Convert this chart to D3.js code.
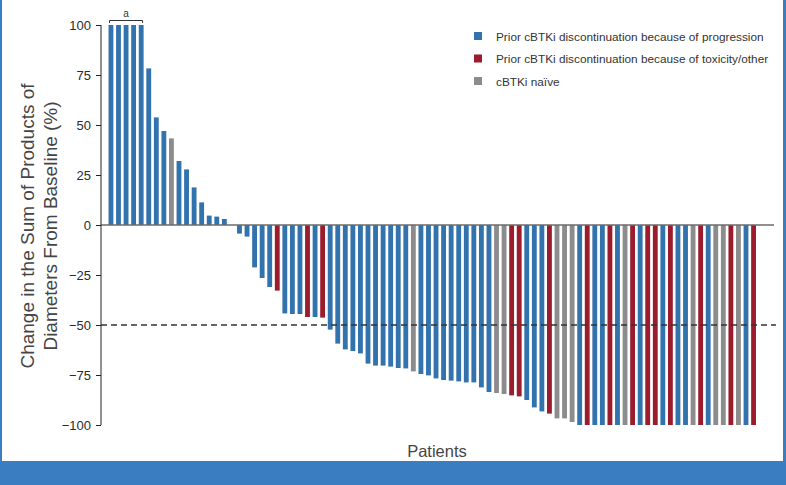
<!DOCTYPE html>
<html><head><meta charset="utf-8">
<script src="https://cdn.jsdelivr.net/npm/d3@7"></script>
<style>
html,body{margin:0;padding:0;background:#fff;}
svg{display:block;font-family:"Liberation Sans",Arial,Helvetica,sans-serif;}
</style></head>
<body>
<svg id="chart" width="786" height="485"></svg>
<script>
// ---- data ----
const patientValues = [100,100,100,100,100,78.3,53.8,47,43.3,32,27.8,18.8,11.3,4.7,4.2,3,
  0,
  -4.3,-5.8,-21.2,-26.5,-31,-32.8,-44.2,-44.5,-44.5,-46,-46,-46.3,
  -52.3,-59.3,-62.2,-63,-64.2,-69.3,-70.3,-70.3,-70.8,-71.5,-71.7,-73.2,-74.5,
  -75.2,-76.7,-77.5,-77.8,-78.2,-78.7,-78.7,-81.2,-83.5,-84,-84.5,-85.2,-85.7,-87.5,-91.2,-93.2,-94.3,-96.7,-96.7,-98.5,
  -100,-100,-100,-100,-100,-100,-100,-100,-100,-100,-100,-100,
  -100,-100,-100,-100,-100,-100,-100,-100,-100,-100,-100,-100];
// P = progression, T = toxicity/other, N = naive
const patientGroups = ("PPPPPPPP"+"N"+"PPPPPPP"+"P"+"PPPPP"+"T"+"PPP"+"T"+"P"+"T"+"PPPPPPPPPPP"+"N"+"PPPPPPPPPP"+"NN"+"TT"+"PPP"+"T"+"NNN"+"P"+"T"+"PP"+"T"+"P"+"N"+"T"+"P"+"TT"+"P"+"T"+"PP"+"N"+"T"+"P"+"NN"+"T"+"N"+"P"+"T").split("");
const groupKeys = ["P","T","N"];
const groupLabels = ["Prior cBTKi discontinuation because of progression",
  "Prior cBTKi discontinuation because of toxicity/other",
  "cBTKi naïve"];
const groupColors = ["#3272ad","#9b1c2c","#8c8c8c"];
const yTicks = [100,75,50,25,0,-25,-50,-75,-100];
const thresholdValue = -50;
const bracketPatients = [0,4];

// ---- chart ----
const svg = d3.select("#chart");
const W = 786, H = 485;
const data = patientValues.map((v,i)=>({id:i, value:v, group:patientGroups[i]}));

const x = d3.scaleBand().domain(data.map(d=>d.id)).range([105.5,759]).paddingInner(0.36).paddingOuter(0.4);
const y = d3.scaleLinear().domain([-100,100]).range([425,25]);
const color = d3.scaleOrdinal().domain(groupKeys).range(groupColors);

// frame
svg.append("rect").attr("x",0).attr("y",0).attr("width",2).attr("height",H).attr("fill","#3b7dc1");
svg.append("rect").attr("x",W-3).attr("y",0).attr("width",3).attr("height",H).attr("fill","#3b7dc1");
svg.append("rect").attr("x",0).attr("y",461).attr("width",W).attr("height",H-461).attr("fill","#3b7dc1");

// bars
svg.append("g").selectAll("rect").data(data.filter(d=>d.value!==0)).join("rect")
  .attr("x",d=>x(d.id))
  .attr("width",x.bandwidth())
  .attr("y",d=>y(Math.max(0,d.value)))
  .attr("height",d=>Math.abs(y(d.value)-y(0)))
  .attr("fill",d=>color(d.group));

// zero line
svg.append("line").attr("x1",101).attr("x2",774).attr("y1",y(0)).attr("y2",y(0))
  .attr("stroke","#6b6b6b").attr("stroke-width",1.6);
// threshold dashed
svg.append("line").attr("x1",101).attr("x2",776).attr("y1",y(thresholdValue)).attr("y2",y(thresholdValue))
  .attr("stroke","#333").attr("stroke-width",1.3).attr("stroke-dasharray","6,4");

// y axis
const yAxis = d3.axisLeft(y).tickValues(yTicks).tickSize(5).tickPadding(5)
  .tickFormat(d=> d<0 ? "\u2212"+Math.abs(d) : d);
const gy = svg.append("g").attr("transform","translate(101,0)").call(yAxis);
gy.select(".domain").attr("stroke","#222").attr("d","M0,"+y(100)+"V"+y(-100));
gy.selectAll(".tick line").attr("stroke","#222");
gy.selectAll(".tick text").attr("fill","#2a2a2a").style("font-size","13px");

// y title
const yt = svg.append("text").attr("transform","translate(0,"+226+") rotate(-90)")
  .attr("text-anchor","middle").attr("fill","#454545").style("font-size","19px");
yt.append("tspan").attr("x",0).attr("y",34).text("Change in the Sum of Products of");
yt.append("tspan").attr("x",0).attr("y",57).text("Diameters From Baseline (%)");

// x title
svg.append("text").attr("x",437).attr("y",457).attr("text-anchor","middle")
  .attr("fill","#454545").style("font-size","16.5px").text("Patients");

// bracket "a"
const bx1 = x(bracketPatients[0]) + 1, bx2 = x(bracketPatients[1]) + x.bandwidth() - 1;
svg.append("path").attr("d",`M${bx1},23V20.5H${bx2}V23`).attr("fill","none").attr("stroke","#333").attr("stroke-width",1);
svg.append("text").attr("x",(bx1+bx2)/2).attr("y",17).attr("text-anchor","middle")
  .attr("fill","#333").style("font-size","10px").text("a");

// legend
const lg = svg.append("g").attr("transform","translate(474,36)");
groupKeys.forEach((k,i)=>{
  const row = lg.append("g").attr("transform",`translate(0,${i*22.5})`);
  row.append("rect").attr("x",0).attr("y",-4).attr("width",8).attr("height",8).attr("fill",groupColors[i]);
  row.append("text").attr("x",22).attr("y",4.5).attr("fill","#333").style("font-size","11.8px").text(groupLabels[i]);
});
</script>
</body></html>
